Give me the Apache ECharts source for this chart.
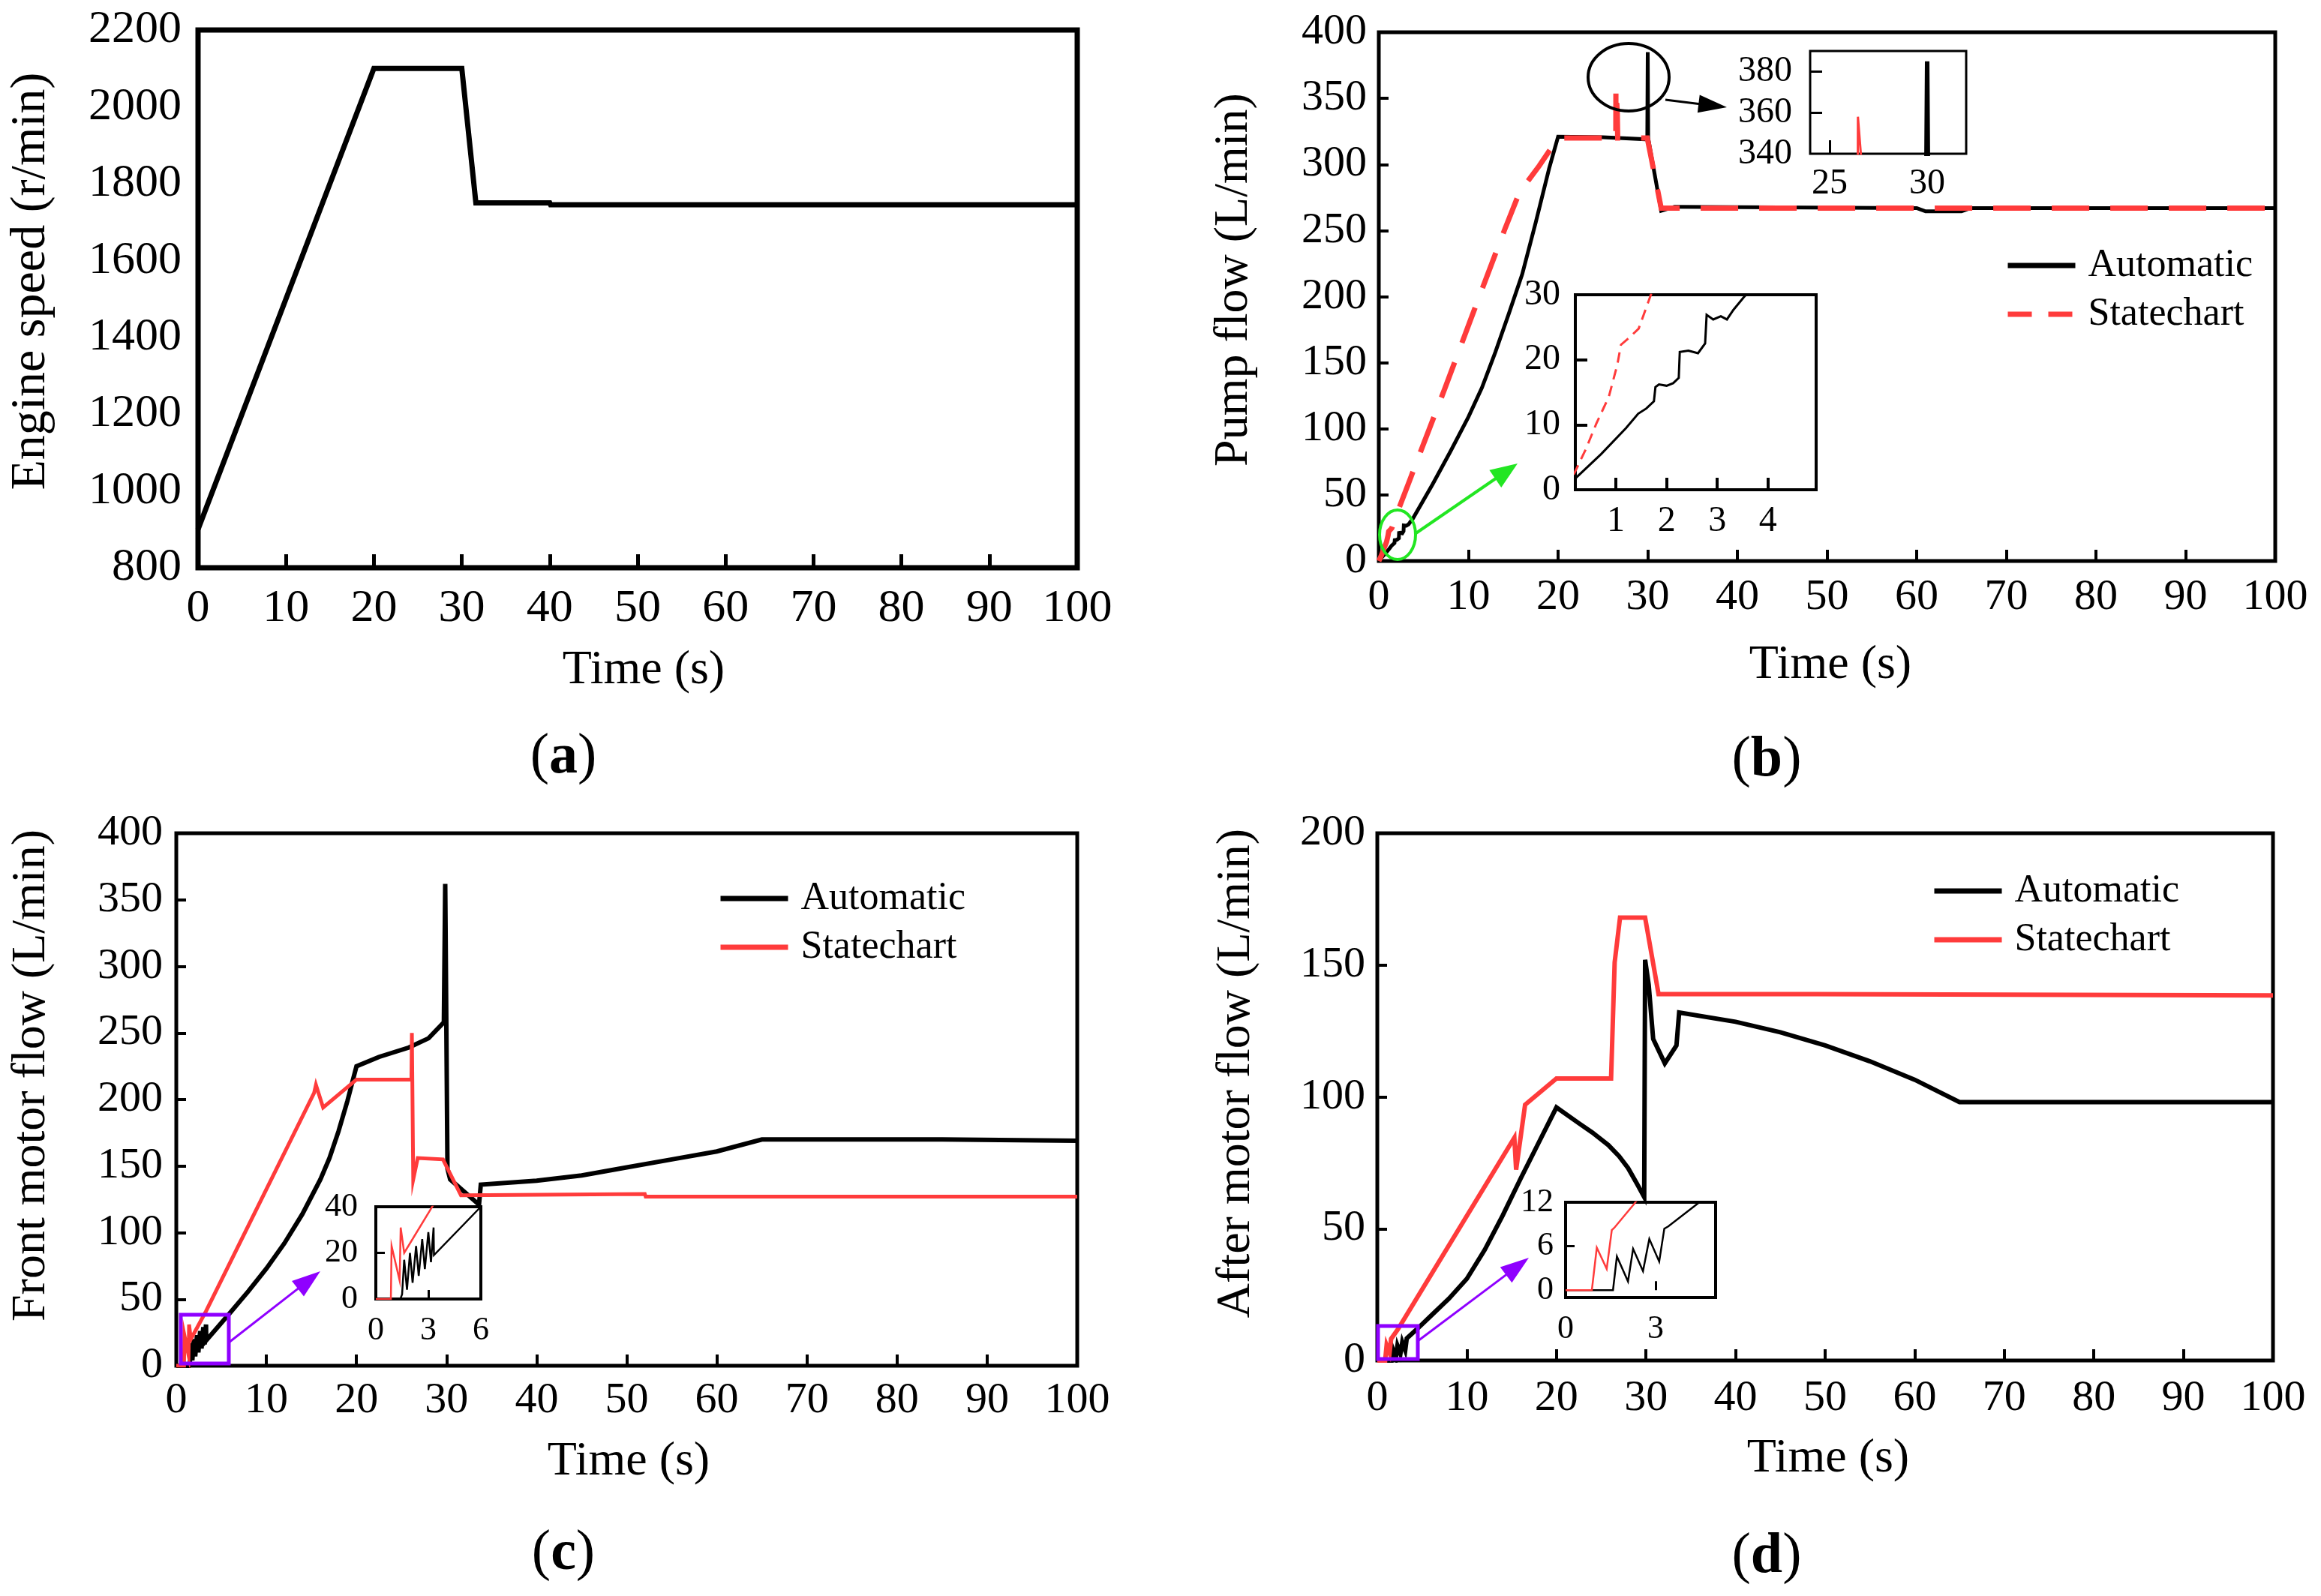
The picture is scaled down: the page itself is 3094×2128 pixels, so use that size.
<!DOCTYPE html>
<html>
<head>
<meta charset="utf-8">
<script src="https://cdn.jsdelivr.net/npm/echarts@6/dist/echarts.min.js"></script>
<style>
html,body{margin:0;padding:0;background:#fff;}
#c{width:3094px;height:2128px;}
</style>
</head>
<body>
<div id="c"></div>
<script>
// ---------- (a) Engine speed ----------
const timeEngine  = [0, 20, 30, 31.6, 40, 40.1, 100];
const engineSpeed = [900, 2100, 2100, 1750, 1750, 1745, 1745];

// ---------- (b) Pump flow ----------
const timePumpAuto = [0, 0.22, 0.71, 1.2, 1.44, 1.6, 1.75, 1.78, 1.85, 2.0, 2.13, 2.24, 2.26, 2.43, 2.62, 2.76, 2.79, 2.92, 3.07, 3.19, 3.32, 3.52, 3.75, 6, 8, 10, 11.5, 13, 14.5, 16, 17.5, 19, 20, 25, 29.95, 30.0, 30.05, 31.5, 33, 60, 61, 65, 66, 100];
const pumpAuto     = [0, 1.9, 5.5, 9.5, 11.7, 12.5, 13.6, 15.8, 16.2, 16.0, 16.4, 17.2, 21.2, 21.4, 21.0, 22.5, 26.9, 26.2, 26.7, 26.2, 27.7, 29.6, 31.5, 58, 83, 109, 131, 158, 187, 217, 256, 297, 321, 320.5, 319, 385, 320, 265, 268, 267, 264.5, 264.5, 267, 267];
const timePumpState = [0, 0.19, 0.41, 0.61, 0.86, 1.03, 1.10, 1.25, 1.45, 1.69, 3.5, 4.9, 7.4, 10.1, 12.6, 14, 15.7, 17.9, 20, 26.44, 26.45, 26.6, 26.65, 29.95, 31.5, 100];
const pumpState     = [0, 2.7, 6.3, 10.1, 14.3, 19.3, 22.3, 23.3, 24.8, 30, 62, 87, 131, 180, 225, 250, 279, 299, 320, 320, 358, 340, 320, 320, 267, 267];

// ---------- (c) Front motor flow ----------
const timeFrontAuto = [0, 1.4, 1.5, 1.62, 1.78, 1.95, 2.1, 2.3, 2.45, 2.65, 2.8, 3.0, 3.15, 3.3, 3.32, 6, 8, 10, 12, 14, 16, 17, 18, 19, 20, 22.5, 25.8, 28, 29.7, 29.85, 30.1, 30.4, 33.6, 33.8, 40, 45, 50, 55, 60, 65, 85, 100];
const frontAuto     = [0, 0, 2, 17, 4, 20, 7, 23, 10, 26, 13, 29, 16, 31, 19, 40, 56, 73, 92, 114, 140, 156, 176, 199, 225, 232, 239, 246, 258, 362, 148, 140, 121, 136, 139, 143, 149, 155, 161, 170, 170, 169];
const timeFrontState = [0, 0.86, 0.9, 1.36, 1.42, 1.62, 3.3, 15.3, 15.5, 16.3, 20, 26.1, 26.15, 26.3, 26.8, 29.6, 31.6, 52, 52.1, 100];
const frontState     = [0, 0, 23, 8, 31, 20, 41, 205, 211, 194, 215, 215, 250, 140, 156, 155, 128, 129, 127, 127];

// ---------- (d) After motor flow ----------
const timeAfterAuto = [0, 1.58, 1.71, 2.08, 2.25, 2.58, 2.79, 3.12, 3.29, 3.42, 4.46, 6, 8, 10, 12, 14, 16, 18, 20, 22.5, 24, 25.8, 27, 28, 29, 29.8, 29.9, 30.3, 30.8, 32.1, 33.4, 33.7, 40, 45, 50, 55, 60, 65, 100];
const afterAuto     = [0, 0, 4.6, 1.2, 5.65, 2.6, 7, 3.9, 8.4, 8.7, 12, 17, 23.5, 31, 42, 55, 69, 82.5, 96, 90, 86.5, 81.7, 77.5, 73, 67, 62, 152, 142.5, 122, 112.7, 119.5, 132, 128.5, 124.5, 119.5, 113.5, 106.5, 98, 98];
const timeAfterState = [0, 0.875, 1.04, 1.37, 1.54, 1.62, 2.29, 15.3, 15.5, 16.5, 20, 26.1, 26.5, 27.1, 29.9, 31.4, 49, 49.1, 100];
const afterState     = [0, 0, 5.8, 2.9, 8.2, 8.5, 11.8, 84.5, 72.4, 97, 107, 107, 151, 168, 168, 139, 139, 138.5, 138.5];

// ---------- tick labels ----------
const insetBTopX = [25, 30];
const insetBTopY = [340, 360, 380];
const insetBLowX = [1, 2, 3, 4];
const insetDX = [0, 3];
const insetDY = [0, 6, 12];

const legendNames = ['Automatic', 'Statechart'];

const FONT = 'Liberation Serif, Times New Roman, Tinos, DejaVu Serif, serif';
const RED = '#ff3b3b';
const pairs = (xs, ys) => xs.map((x, i) => [x, ys[i]]);
const plain = v => String(v);

const grids = [
  {left: 264,  top: 40,   width: 1172, height: 717, bw: 7},  // a
  {left: 1838, top: 43,   width: 1195, height: 705, bw: 5},  // b
  {left: 235,  top: 1111, width: 1201, height: 710, bw: 5},  // c
  {left: 1836, top: 1111, width: 1194, height: 703, bw: 5},  // d
  {left: 2413, top: 68,   width: 208,  height: 137, bw: 3},  // b inset top
  {left: 2100, top: 393,  width: 321,  height: 260, bw: 4},  // b inset low
  {left: 501,  top: 1609, width: 140,  height: 123, bw: 4},  // c inset
  {left: 2087, top: 1603, width: 200,  height: 127, bw: 4}   // d inset
].map(g => ({left: g.left, top: g.top, width: g.width, height: g.height, show: true,
  borderColor: '#000', borderWidth: g.bw, backgroundColor: 'transparent'}));

function lbl(fs, margin, custom) {
  const o = {show: true, color: '#000', fontFamily: FONT, fontSize: fs, margin: margin, formatter: plain};
  if (custom) o.customValues = custom;
  return o;
}
function tck(len, w, custom) {
  const o = {show: true, inside: true, length: len, lineStyle: {color: '#000', width: w}};
  if (custom) o.customValues = custom;
  return o;
}
function ax(gi, min, max, interval, label, tick) {
  const o = {gridIndex: gi, type: 'value', min: min, max: max,
    axisLine: {show: false}, splitLine: {show: false}, axisLabel: label, axisTick: tick};
  if (interval != null) o.interval = interval;
  return o;
}

const xAxes = [
  ax(0, 0, 100, 10, lbl(62, 24), tck(18, 5)),
  ax(1, 0, 100, 10, lbl(58, 20), tck(15, 4)),
  ax(2, 0, 100, 10, lbl(58, 18), tck(15, 4)),
  ax(3, 0, 100, 10, lbl(58, 22), tck(15, 4)),
  ax(4, 24, 32, null, lbl(48, 16, insetBTopX), tck(18, 3, insetBTopX)),
  ax(5, 0.2, 4.95, null, lbl(48, 18, insetBLowX), tck(16, 4, insetBLowX)),
  ax(6, 0, 6, 3, lbl(44, 20), tck(12, 3)),
  ax(7, 0, 5, null, lbl(44, 20, insetDX), tck(12, 3, [3]))
];
const noTick = tck(13, 4); noTick.show = false;
const yAxes = [
  ax(0, 800, 2200, 200, lbl(62, 22), noTick),
  ax(1, 0, 400, 50, lbl(58, 16), tck(13, 4)),
  ax(2, 0, 400, 50, lbl(58, 18), tck(13, 4)),
  ax(3, 0, 200, 50, lbl(58, 16), tck(13, 4)),
  ax(4, 340, 390, null, lbl(48, 24, insetBTopY), tck(16, 3, [360, 380])),
  ax(5, 0, 30, 10, lbl(48, 20), tck(16, 4)),
  ax(6, 0, 40, 20, lbl(44, 24), tck(12, 3)),
  ax(7, -1, 12, null, lbl(44, 16, insetDY), tck(12, 3, [6]))
];

function line(name, gi, data, color, width, type) {
  return {
    name: name, type: 'line', xAxisIndex: gi, yAxisIndex: gi, data: data,
    symbol: 'none', showSymbol: false, clip: true, animation: false, silent: true,
    lineStyle: {color: color, width: width, type: type || 'solid', cap: 'butt', join: 'miter'},
    itemStyle: {color: color}
  };
}

const dPumpAuto = pairs(timePumpAuto, pumpAuto);
const dPumpState = pairs(timePumpState, pumpState);
const dFrontAuto = pairs(timeFrontAuto, frontAuto);
const dFrontState = pairs(timeFrontState, frontState);
const dAfterAuto = pairs(timeAfterAuto, afterAuto);
const dAfterState = pairs(timeAfterState, afterState);

const series = [
  line('Automatic', 1, dPumpAuto, '#000', 5),
  line('Statechart', 1, dPumpState, RED, 7, [50, 28]),
  line('Engine speed', 0, pairs(timeEngine, engineSpeed), '#000', 7),
  line('Automatic', 2, dFrontAuto, '#000', 6),
  line('Statechart', 2, dFrontState, RED, 5),
  line('Automatic', 3, dAfterAuto, '#000', 6),
  line('Statechart', 3, dAfterState, RED, 6),
  line('Automatic', 4, dPumpAuto, '#000', 6),
  line('Statechart', 4, dPumpState, RED, 3),
  line('Automatic', 5, dPumpAuto, '#000', 3),
  line('Statechart', 5, dPumpState, RED, 3, [14, 9]),
  line('Automatic', 6, dFrontAuto, '#000', 2.5),
  line('Statechart', 6, dFrontState, RED, 2.5),
  line('Automatic', 7, dAfterAuto, '#000', 2.5),
  line('Statechart', 7, dAfterState, RED, 2.5)
];

const hidden = {color: 'rgba(0,0,0,0)', borderColor: 'rgba(0,0,0,0)', borderWidth: 0};
function legend(left, top, gap, dashed) {
  return {
    left: left, top: top, orient: 'vertical', itemWidth: 90, itemHeight: 20, itemGap: gap,
    padding: 0, selectedMode: false,
    itemStyle: hidden,
    textStyle: {fontFamily: FONT, fontSize: 52, color: '#000', lineHeight: 54, padding: [0, 0, 0, 12]},
    data: [
      {name: legendNames[0], itemStyle: hidden, lineStyle: {color: '#000', width: 7, type: 'solid'}},
      {name: legendNames[1], itemStyle: hidden, lineStyle: {color: RED, width: 7, type: dashed ? [32, 22] : 'solid'}}
    ]
  };
}

const legends = [
  legend(2673, 327, 11, true),
  legend(957, 1171, 11, false),
  legend(2575, 1161, 11, false)
];

function txt(x, y, text, size, rot) {
  return {type: 'text', x: x, y: y, rotation: rot || 0, silent: true, z: 100,
    style: {text: text, font: size + 'px ' + FONT, fill: '#000',
      textAlign: 'center', align: 'center', textVerticalAlign: 'middle', verticalAlign: 'middle'}};
}
function panelLabel(x, y, letter) {
  return {type: 'text', x: x, y: y, silent: true, z: 100,
    style: {text: '{n|(}{b|' + letter + '}{n|)}', fill: '#000',
      textAlign: 'center', align: 'center', textVerticalAlign: 'middle', verticalAlign: 'middle',
      rich: {n: {fontSize: 76, fontFamily: FONT, fontWeight: 'normal', fill: '#000', color: '#000'},
             b: {fontSize: 76, fontFamily: FONT, fontWeight: 'bold', fill: '#000', color: '#000'}}}};
}
function arrow(x1, y1, x2, y2, color, w, hl, hw) {
  const dx = x2 - x1, dy = y2 - y1, L = Math.sqrt(dx * dx + dy * dy);
  const ux = dx / L, uy = dy / L, px = -uy, py = ux;
  const bx = x2 - ux * hl, by = y2 - uy * hl;
  return [
    {type: 'line', silent: true, z: 90, shape: {x1: x1, y1: y1, x2: bx + ux * 2, y2: by + uy * 2}, style: {stroke: color, lineWidth: w}},
    {type: 'polygon', silent: true, z: 90, shape: {points: [[x2, y2], [bx + px * hw / 2, by + py * hw / 2], [bx - px * hw / 2, by - py * hw / 2]]}, style: {fill: color}}
  ];
}

const GREEN = '#22e622';
const PURPLE = '#8f00ff';
const graphics = [
  txt(858, 894, 'Time (s)', 64),
  txt(42, 375, 'Engine speed (r/min)', 66, Math.PI / 2),
  panelLabel(751, 1010, 'a'),
  txt(2440, 887, 'Time (s)', 64),
  txt(1645, 373, 'Pump flow (L/min)', 64, Math.PI / 2),
  panelLabel(2355, 1014, 'b'),
  txt(838, 1949, 'Time (s)', 64),
  txt(42, 1434, 'Front motor flow (L/min)', 64, Math.PI / 2),
  panelLabel(751, 2072, 'c'),
  txt(2437, 1945, 'Time (s)', 64),
  txt(1648, 1431, 'After motor flow (L/min)', 64, Math.PI / 2),
  panelLabel(2355, 2076, 'd'),
  {type: 'ellipse', silent: true, z: 90, shape: {cx: 1863, cy: 713, rx: 24, ry: 33}, style: {fill: 'none', stroke: GREEN, lineWidth: 4}},
  ...arrow(1886, 712, 2023, 618, GREEN, 4, 36, 28),
  {type: 'ellipse', silent: true, z: 90, shape: {cx: 2171, cy: 103, rx: 54, ry: 45}, style: {fill: 'none', stroke: '#000', lineWidth: 4}},
  ...arrow(2220, 133, 2302, 143, '#000', 3, 38, 24),
  {type: 'rect', silent: true, z: 90, shape: {x: 241, y: 1753, width: 64, height: 65}, style: {fill: 'none', stroke: PURPLE, lineWidth: 5}},
  ...arrow(305, 1790, 427, 1695, PURPLE, 3, 38, 26),
  {type: 'rect', silent: true, z: 90, shape: {x: 1837, y: 1768, width: 53, height: 44}, style: {fill: 'none', stroke: PURPLE, lineWidth: 5}},
  ...arrow(1890, 1788, 2038, 1677, PURPLE, 3, 38, 26)
];

const chart = echarts.init(document.getElementById('c'), null, {renderer: 'canvas', width: 3094, height: 2128, devicePixelRatio: 1});
chart.setOption({
  animation: false,
  backgroundColor: '#fff',
  grid: grids,
  xAxis: xAxes,
  yAxis: yAxes,
  legend: legends,
  series: series,
  graphic: {elements: graphics}
});
</script>
</body>
</html>
